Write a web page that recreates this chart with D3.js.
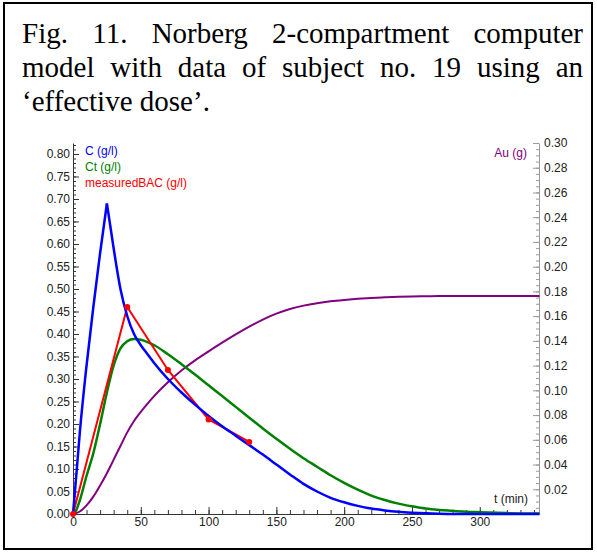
<!DOCTYPE html>
<html>
<head>
<meta charset="utf-8">
<script src="https://cdn.jsdelivr.net/npm/d3@7"></script>
<style>
  body { margin: 0; background: #fff; }
  svg { display: block; }
</style>
</head>
<body>
<svg id="fig" width="597" height="560"></svg>
<script>
(function () {
    'use strict';

    // caption, one entry per printed line
    var captionLines = [
        "Fig. 11. Norberg 2-compartment computer",
        "model with data of subject no. 19 using an",
        "\u2018effective dose\u2019."
    ];

    // model output, sampled on a shared time grid (min)
    var t = [0, 2, 5, 10, 15, 20, 25, 30, 35, 40, 45, 50, 55, 60, 70, 80, 90, 100, 110, 120, 130,
             140, 150, 160, 170, 180, 190, 200, 210, 220, 230, 240, 250, 260, 270, 280, 290, 300, 320, 344];
    var C = [0, 0.07, 0.18, 0.33, 0.46, 0.58, 0.69, 0.59, 0.50, 0.44, 0.40, 0.375, 0.355, 0.335, 0.30,
             0.27, 0.243, 0.218, 0.195, 0.174, 0.153, 0.132, 0.11, 0.088, 0.067, 0.05, 0.036, 0.026,
             0.018, 0.012, 0.008, 0.005, 0.003, 0.0015, 0.0005, 0, 0, 0, 0, 0];
    var Ct = [0, 0.006, 0.03, 0.085, 0.135, 0.2, 0.27, 0.33, 0.368, 0.384, 0.389, 0.387, 0.382, 0.375,
              0.355, 0.333, 0.31, 0.286, 0.262, 0.238, 0.214, 0.19, 0.167, 0.145, 0.124, 0.105, 0.086,
              0.069, 0.054, 0.041, 0.031, 0.023, 0.017, 0.012, 0.009, 0.007, 0.005, 0.004, 0.002, 0.001];
    var Au = [0, 0.0005, 0.002, 0.007, 0.014, 0.023, 0.033, 0.044, 0.055, 0.066, 0.0752, 0.0826, 0.0893,
              0.0955, 0.1065, 0.1160, 0.1242, 0.1315, 0.1385, 0.1452, 0.1515, 0.1572, 0.1620, 0.1658,
              0.1685, 0.1705, 0.1720, 0.1731, 0.1740, 0.1747, 0.1752, 0.1756, 0.1759, 0.1761, 0.1762,
              0.1762, 0.1762, 0.1762, 0.1762, 0.1762];

    // measured blood alcohol
    var tBAC = [0, 40, 70, 100, 130];
    var BAC = [0, 0.46, 0.32, 0.21, 0.16];

    var leftTicks = [0, 0.05, 0.10, 0.15, 0.20, 0.25, 0.30, 0.35, 0.40, 0.45, 0.50, 0.55, 0.60, 0.65, 0.70, 0.75, 0.80];
    var rightTicks = [0.02, 0.04, 0.06, 0.08, 0.10, 0.12, 0.14, 0.16, 0.18, 0.20, 0.22, 0.24, 0.26, 0.28, 0.30];
    var timeTicks = [0, 50, 100, 150, 200, 250, 300];

    var legendLeft = ["C (g/l)", "Ct (g/l)", "measuredBAC (g/l)"];
    var legendRight = "Au (g)";
    var timeTitle = "t (min)";

    var colors = { C: "#0000ff", Ct: "#008000", BAC: "#ff0000", Au: "#800080" };

    var svg = d3.select("#fig");
    var sans = "'Liberation Sans', Arial, sans-serif";

    // frame round the figure
    svg.append("rect")
        .attr("x", 4).attr("y", 3)
        .attr("width", 588).attr("height", 546)
        .attr("fill", "none")
        .attr("stroke", "#000")
        .attr("stroke-width", 2);

    // justified caption
    var capLeft = 22, capRight = 583, capSize = 29;
    captionLines.forEach(function (line, li) {
        var words = line.split(" ");
        var baseY = 43 + li * 34;
        var g = svg.append("g");
        var nodes = words.map(function (w) {
            return g.append("text")
                .attr("y", baseY)
                .style("font-family", "'Liberation Serif', 'Times New Roman', serif")
                .style("font-size", capSize + "px")
                .attr("fill", "#000")
                .text(w);
        });
        var widths = nodes.map(function (n) { return n.node().getComputedTextLength(); });
        var total = d3.sum(widths);
        var last = li === captionLines.length - 1;
        var gap = last ? capSize * 0.25 : (capRight - capLeft - total) / (words.length - 1);
        var x = capLeft;
        nodes.forEach(function (n, i) {
            n.attr("x", x);
            x += widths[i] + gap;
        });
    });

    // chart geometry
    var x0 = 73, x1 = 539, yBottom = 514, yTop = 143;

    var x = d3.scaleLinear().domain([0, 343.7]).range([x0, x1]);
    var yL = d3.scaleLinear().domain([0, 0.8244]).range([yBottom, yTop]);
    var yR = d3.scaleLinear().domain([0, 0.30]).range([yBottom, yTop]);

    // minor ticks first
    svg.append("g")
        .attr("transform", "translate(" + x0 + ",0)")
        .call(d3.axisLeft(yL).tickValues(d3.range(0, 0.821, 0.01)).tickSize(-3).tickFormat(""))
        .call(function (g) { g.select(".domain").remove(); g.selectAll("line").attr("stroke", "#333"); });

    svg.append("g")
        .attr("transform", "translate(" + x1 + ",0)")
        .call(d3.axisRight(yR).tickValues(d3.range(0, 0.3001, 0.005)).tickSize(-3).tickFormat(""))
        .call(function (g) { g.select(".domain").remove(); g.selectAll("line").attr("stroke", "#999"); });

    svg.append("g")
        .attr("transform", "translate(0," + yBottom + ")")
        .call(d3.axisBottom(x).tickValues(d3.range(0, 341, 10)).tickSize(-4).tickFormat(""))
        .call(function (g) { g.select(".domain").remove(); g.selectAll("line").attr("stroke", "#333"); });

    // major axes
    var axL = svg.append("g")
        .attr("transform", "translate(" + x0 + ",0)")
        .call(d3.axisLeft(yL).tickValues(leftTicks).tickSize(-6).tickSizeOuter(0).tickPadding(3).tickFormat(d3.format(".2f")));
    axL.select(".domain").attr("stroke", "#333");
    axL.selectAll("line").attr("stroke", "#333");

    var axR = svg.append("g")
        .attr("transform", "translate(" + x1 + ",0)")
        .call(d3.axisRight(yR).tickValues(rightTicks).tickSize(-6).tickSizeOuter(0).tickPadding(5).tickFormat(d3.format(".2f")));
    axR.select(".domain").attr("stroke", "#999");
    axR.selectAll("line").attr("stroke", "#999");

    var axB = svg.append("g")
        .attr("transform", "translate(0," + yBottom + ")")
        .call(d3.axisBottom(x).tickValues(timeTicks).tickSize(-7).tickSizeOuter(0).tickPadding(3));
    axB.select(".domain").attr("stroke", "#333");
    axB.selectAll("line").attr("stroke", "#333");

    svg.selectAll(".tick text")
        .style("font-family", sans)
        .style("font-size", "12px")
        .attr("fill", "#222");

    // curves
    var lineL = d3.line()
        .x(function (d) { return x(d[0]); })
        .y(function (d) { return yL(d[1]); })
        .curve(d3.curveMonotoneX);
    var lineR = d3.line()
        .x(function (d) { return x(d[0]); })
        .y(function (d) { return yR(d[1]); })
        .curve(d3.curveMonotoneX);

    var auPts = d3.zip(t, Au);
    var ctPts = d3.zip(t, Ct);
    var cPts = d3.zip(t, C);
    var peak = d3.maxIndex(C);

    svg.append("path").attr("d", lineR(auPts))
        .attr("fill", "none").attr("stroke", colors.Au).attr("stroke-width", 2);
    svg.append("path").attr("d", lineL(ctPts))
        .attr("fill", "none").attr("stroke", colors.Ct).attr("stroke-width", 2.5);

    var bacPts = d3.zip(tBAC, BAC);
    svg.append("path").attr("d", lineL.curve(d3.curveLinear)(bacPts))
        .attr("fill", "none").attr("stroke", colors.BAC).attr("stroke-width", 2);
    lineL.curve(d3.curveMonotoneX);

    // C has a sharp peak, so draw rise and fall separately
    [cPts.slice(0, peak + 1), cPts.slice(peak)].forEach(function (seg) {
        svg.append("path").attr("d", lineL(seg))
            .attr("fill", "none").attr("stroke", colors.C).attr("stroke-width", 2.5)
            .attr("stroke-linejoin", "round");
    });

    svg.selectAll(".bac")
        .data(bacPts)
        .enter().append("circle")
        .attr("class", "bac")
        .attr("cx", function (d) { return x(d[0]); })
        .attr("cy", function (d) { return yL(d[1]); })
        .attr("r", 3)
        .attr("fill", colors.BAC);

    // legends
    var legColors = [colors.C, colors.Ct, colors.BAC];
    svg.selectAll(".legL")
        .data(legendLeft)
        .enter().append("text")
        .attr("class", "legL")
        .attr("x", 85)
        .attr("y", function (d, i) { return 155 + i * 16; })
        .style("font-family", sans)
        .style("font-size", "12px")
        .attr("fill", function (d, i) { return legColors[i]; })
        .text(function (d) { return d; });

    svg.append("text")
        .attr("x", 527).attr("y", 157)
        .attr("text-anchor", "end")
        .style("font-family", sans)
        .style("font-size", "12px")
        .attr("fill", colors.Au)
        .text(legendRight);

    svg.append("text")
        .attr("x", 528).attr("y", 503)
        .attr("text-anchor", "end")
        .style("font-family", sans)
        .style("font-size", "12px")
        .attr("fill", "#222")
        .text(timeTitle);
})();
</script>
</body>
</html>
